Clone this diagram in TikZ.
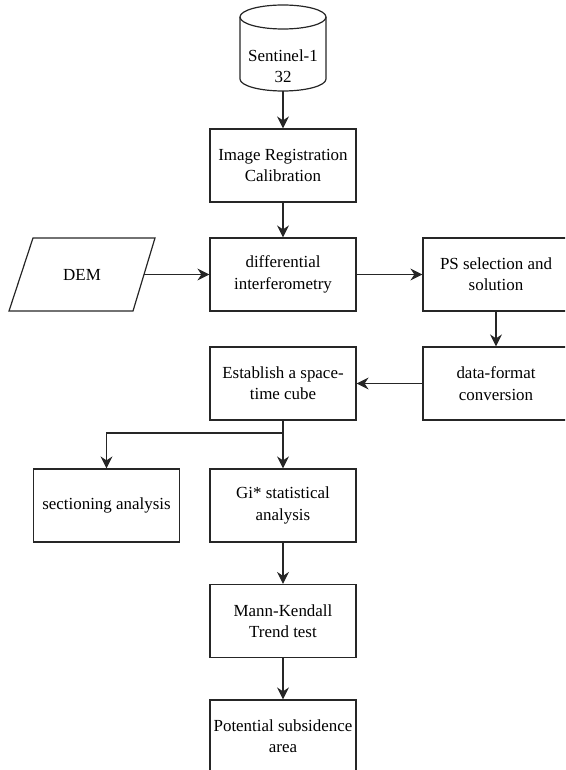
\documentclass[tikz,border=0pt]{standalone}
\usepackage{fontspec}
\setmainfont{Liberation Serif}
\usetikzlibrary{arrows.meta}

\begin{document}
\begin{tikzpicture}[x=0.75pt,y=0.75pt,yscale=-1,xscale=1,
  proc/.style={draw=black!85, line width=0.9pt, minimum width=109.5pt, minimum height=54.75pt, align=center, inner sep=1pt, font=\fontsize{12.7}{16}\selectfont},
  flow/.style={draw=black!85, line width=0.9pt, -{Stealth[length=9pt,width=9pt,inset=3pt]}}]
\path [use as bounding box, clip] (0,0) rectangle (565,770);

%Shape: Can
\draw [draw=black!85, line width=0.9pt] (240,17) -- (240,79) arc (180:0:43 and 12) -- (326,17) ;
\draw [draw=black!85, line width=0.9pt] (283,17) ellipse (43 and 12) ;
\node [align=center, minimum width=64.5pt, minimum height=37.5pt, inner sep=1pt, font=\fontsize{12.7}{16}\selectfont] (s1) at (283,66) {Sentinel-1\\32};

%Flowchart: Process
\node [proc] (reg) at (283,165.5) {Image Registration\\Calibration};
\node [proc] (dif) at (283,274.5) {differential\\interferometry};
\node [proc] (ps) at (496,274.5) {PS selection and\\solution};
\node [proc] (fmt) at (496,383.5) {data-format\\conversion};
\node [proc] (cube) at (283,383.5) {Establish a space-\\time cube};
\node [proc] (sec) at (106.5,505.5) {sectioning analysis};
\node [proc] (gi) at (283,505.5) {Gi* statistical\\analysis};
\node [proc] (mk) at (283,621) {Mann-Kendall\\Trend test};
\node [proc] (pot) at (283,736.5) {Potential subsidence\\area};

%Flowchart: Data
\draw [draw=black!85, line width=0.9pt] (33,238) -- (155,238) -- (133,311) -- (9,311) -- cycle ;
\node [minimum width=93pt, minimum height=54.75pt, inner sep=1pt, font=\fontsize{12.7}{16}\selectfont] (dem) at (82,274.5) {DEM};

%Straight Lines
\coordinate (split) at (283,433);
\draw [flow] (s1.south) -- (reg.north) ;
\draw [flow] (reg.south) -- (dif.north) ;
\draw [flow] (dem.east) -- (dif.west) ;
\draw [flow] (dif.east) -- (ps.west) ;
\draw [flow] (ps.south) -- (fmt.north) ;
\draw [flow] (fmt.west) -- (cube.east) ;
\draw [flow] (cube.south) -- (gi.north) ;
\draw [flow] (split) -| (sec.north) ;
\draw [flow] (gi.south) -- (mk.north) ;
\draw [flow] (mk.south) -- (pot.north) ;

\end{tikzpicture}
\end{document}
